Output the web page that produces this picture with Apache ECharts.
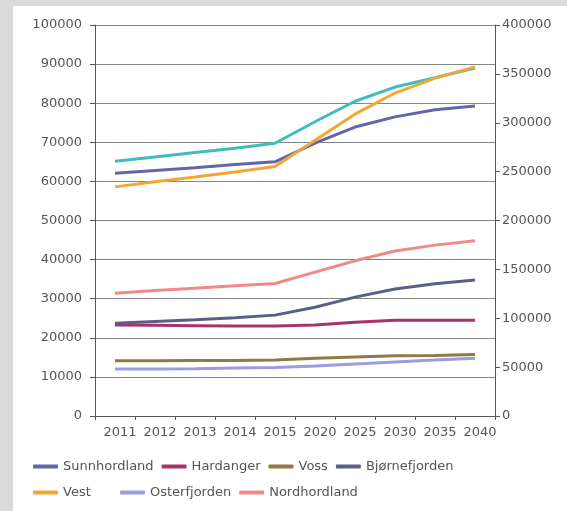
<!DOCTYPE html>
<html>
<head>
<meta charset="utf-8">
<script src="https://cdn.jsdelivr.net/npm/echarts@6/dist/echarts.min.js"></script>
<style>
  html, body { margin: 0; padding: 0; background: #dadada; width: 567px; height: 511px; overflow: hidden; }
  #chart { position: absolute; left: 13px; top: 6px; width: 554px; height: 505px; }
</style>
</head>
<body>
<div id="chart"></div>
<script>
const categories = ['2011', '2012', '2013', '2014', '2015', '2020', '2025', '2030', '2035', '2040'];
const leftTicks = [0, 100000, 10000];
const rightTicks = [0, 400000, 50000];

// right axis
const bergen = [260500, 265000, 269500, 274000, 279000, 301000, 322000, 336500, 346000, 356000];
// left axis
const sunnhordland = [62100, 62800, 63500, 64300, 65000, 69800, 73900, 76500, 78300, 79300];
const vest = [58600, 59900, 61100, 62400, 63800, 70500, 77200, 82600, 86400, 89300];
const nordhordland = [31400, 32100, 32700, 33300, 33900, 36800, 39700, 42200, 43700, 44800];
const bjornefjorden = [23700, 24200, 24600, 25100, 25800, 27800, 30400, 32500, 33800, 34800];
const hardanger = [23300, 23200, 23100, 23000, 23000, 23300, 24000, 24500, 24500, 24500];
const voss = [14100, 14100, 14200, 14200, 14300, 14800, 15100, 15400, 15500, 15700];
const osterfjorden = [12000, 12000, 12100, 12300, 12400, 12800, 13300, 13800, 14300, 14800];

const FONT = 'DejaVu Sans';
const TXT = '#555555';

function line(name, data, color, axis) {
  return {
    name: name, type: 'line', data: data, yAxisIndex: axis,
    symbol: 'none', smooth: false,
    lineStyle: { color: color, width: 3 },
    itemStyle: { color: color },
    emphasis: { disabled: true }
  };
}

const legendBase = {
  icon: 'roundRect', itemWidth: 25, itemHeight: 4, itemGap: 8,
  textStyle: { fontFamily: FONT, fontSize: 13, color: TXT },
  orient: 'horizontal', selectedMode: false
};

const plain = v => String(v);

const chart = echarts.init(document.getElementById('chart'), null, { renderer: 'canvas' });
chart.setOption({
  backgroundColor: '#ffffff',
  animation: false,
  textStyle: { fontFamily: FONT },
  grid: { left: 82, right: 72, top: 19, bottom: 95, containLabel: false },
  legend: [
    Object.assign({}, legendBase, { left: 15, top: 449, data: ['Sunnhordland', 'Hardanger', 'Voss', 'Bjørnefjorden'] }),
    Object.assign({}, legendBase, { left: 15, top: 475, data: ['Vest'] }),
    Object.assign({}, legendBase, { left: 102, top: 475, data: ['Osterfjorden', 'Nordhordland'] })
  ],
  xAxis: {
    type: 'category', data: categories, boundaryGap: true,
    axisLine: { show: true, lineStyle: { color: '#555', width: 1 } },
    axisTick: { show: true, interval: 0, length: 4, lineStyle: { color: '#555' } },
    axisLabel: { interval: 0, margin: 10, fontSize: 13, color: TXT, fontFamily: FONT, padding: [0, 0, 0, 10] },
    splitLine: { show: false }
  },
  yAxis: [
    {
      type: 'value', min: leftTicks[0], max: leftTicks[1], interval: leftTicks[2], position: 'left',
      axisLine: { show: true, lineStyle: { color: '#555', width: 1 } },
      axisTick: { show: true, length: 5, lineStyle: { color: '#555' } },
      axisLabel: { margin: 13, fontSize: 13, color: TXT, fontFamily: FONT, formatter: plain },
      splitLine: { show: true, lineStyle: { color: '#858585', width: 1 } }
    },
    {
      type: 'value', min: rightTicks[0], max: rightTicks[1], interval: rightTicks[2], position: 'right',
      axisLine: { show: true, lineStyle: { color: '#555', width: 1 } },
      axisTick: { show: true, length: 5, lineStyle: { color: '#555' } },
      axisLabel: { margin: 7, fontSize: 13, color: TXT, fontFamily: FONT, formatter: plain },
      splitLine: { show: false }
    }
  ],
  series: [
    line('Osterfjorden', osterfjorden, '#9c9ce0', 0),
    line('Voss', voss, '#8c7b45', 0),
    line('Hardanger', hardanger, '#a8326a', 0),
    line('Bjørnefjorden', bjornefjorden, '#5a5f8a', 0),
    line('Nordhordland', nordhordland, '#f08a8a', 0),
    line('Sunnhordland', sunnhordland, '#6464a8', 0),
    line('Bergen', bergen, '#40bcbc', 1),
    line('Vest', vest, '#f2a634', 0)
  ]
});
</script>
</body>
</html>
